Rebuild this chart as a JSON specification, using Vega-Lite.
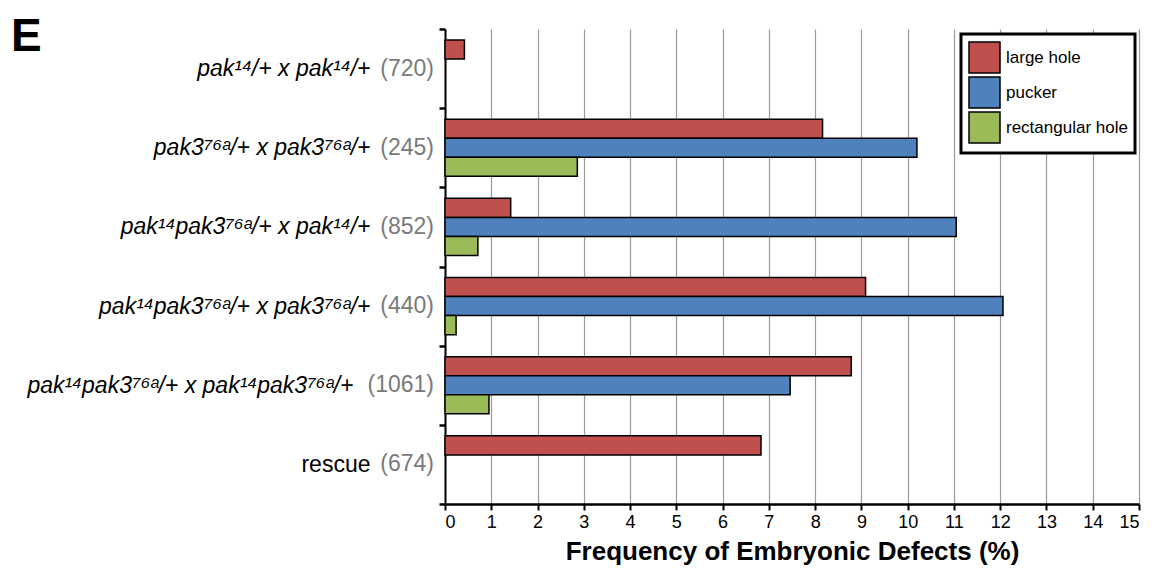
{
  "$schema": "https://vega.github.io/schema/vega-lite/v6.json",
  "width": 694,
  "height": 475,
  "padding": {"left": 10, "top": 14, "right": 5, "bottom": 5},
  "background": "white",
  "view": {"stroke": null},
  "config": {"font": "Liberation Sans"},
  "title": {"text": "E", "anchor": "start", "frame": "bounds", "fontSize": 46, "font": "Liberation Sans", "fontWeight": "bold", "color": "black", "offset": -43, "dx": -16},
  "datasets": {
    "bars": [
      {"cross": "pak¹⁴/+ x pak¹⁴/+", "defect": "large hole", "pct": 0.42},
      {"cross": "pak3⁷⁶ᵃ/+ x pak3⁷⁶ᵃ/+", "defect": "large hole", "pct": 8.16},
      {"cross": "pak3⁷⁶ᵃ/+ x pak3⁷⁶ᵃ/+", "defect": "pucker", "pct": 10.2},
      {"cross": "pak3⁷⁶ᵃ/+ x pak3⁷⁶ᵃ/+", "defect": "rectangular hole", "pct": 2.86},
      {"cross": "pak¹⁴pak3⁷⁶ᵃ/+ x pak¹⁴/+", "defect": "large hole", "pct": 1.42},
      {"cross": "pak¹⁴pak3⁷⁶ᵃ/+ x pak¹⁴/+", "defect": "pucker", "pct": 11.05},
      {"cross": "pak¹⁴pak3⁷⁶ᵃ/+ x pak¹⁴/+", "defect": "rectangular hole", "pct": 0.71},
      {"cross": "pak¹⁴pak3⁷⁶ᵃ/+ x pak3⁷⁶ᵃ/+", "defect": "large hole", "pct": 9.09},
      {"cross": "pak¹⁴pak3⁷⁶ᵃ/+ x pak3⁷⁶ᵃ/+", "defect": "pucker", "pct": 12.06},
      {"cross": "pak¹⁴pak3⁷⁶ᵃ/+ x pak3⁷⁶ᵃ/+", "defect": "rectangular hole", "pct": 0.24},
      {"cross": "pak¹⁴pak3⁷⁶ᵃ/+ x pak¹⁴pak3⁷⁶ᵃ/+\u2800", "defect": "large hole", "pct": 8.78},
      {"cross": "pak¹⁴pak3⁷⁶ᵃ/+ x pak¹⁴pak3⁷⁶ᵃ/+\u2800", "defect": "pucker", "pct": 7.46},
      {"cross": "pak¹⁴pak3⁷⁶ᵃ/+ x pak¹⁴pak3⁷⁶ᵃ/+\u2800", "defect": "rectangular hole", "pct": 0.95},
      {"cross": "rescue", "defect": "large hole", "pct": 6.83}
    ],
    "counts": [
      {"cross": "pak¹⁴/+ x pak¹⁴/+", "n": "(720)"},
      {"cross": "pak3⁷⁶ᵃ/+ x pak3⁷⁶ᵃ/+", "n": "(245)"},
      {"cross": "pak¹⁴pak3⁷⁶ᵃ/+ x pak¹⁴/+", "n": "(852)"},
      {"cross": "pak¹⁴pak3⁷⁶ᵃ/+ x pak3⁷⁶ᵃ/+", "n": "(440)"},
      {"cross": "pak¹⁴pak3⁷⁶ᵃ/+ x pak¹⁴pak3⁷⁶ᵃ/+\u2800", "n": "(1061)"},
      {"cross": "rescue", "n": "(674)"}
    ]
  },
  "layer": [
    {
      "data": {"name": "bars"},
      "mark": {"type": "bar", "stroke": "black", "strokeWidth": 1.5},
      "encoding": {
        "y": {
          "field": "cross", "type": "nominal",
          "sort": ["pak¹⁴/+ x pak¹⁴/+", "pak3⁷⁶ᵃ/+ x pak3⁷⁶ᵃ/+", "pak¹⁴pak3⁷⁶ᵃ/+ x pak¹⁴/+", "pak¹⁴pak3⁷⁶ᵃ/+ x pak3⁷⁶ᵃ/+", "pak¹⁴pak3⁷⁶ᵃ/+ x pak¹⁴pak3⁷⁶ᵃ/+\u2800", "rescue"],
          "scale": {"paddingInner": 0, "paddingOuter": 0},
          "axis": {
            "title": null,
            "domainColor": "black", "domainWidth": 2,
            "tickColor": "black", "tickWidth": 2.5, "tickSize": 6, "tickBand": "extent",
            "labelFont": "Liberation Sans", "labelFontSize": 23, "labelColor": "black",
            "labelFontStyle": {"condition": {"test": "datum.value === 'rescue'", "value": "normal"}, "value": "italic"},
            "labelPadding": 69, "labelLimit": 600, "grid": false
          }
        },
        "yOffset": {
          "field": "defect", "type": "nominal",
          "sort": ["large hole", "pucker", "rectangular hole"],
          "scale": {"domain": ["large hole", "pucker", "rectangular hole"], "paddingInner": 0, "paddingOuter": 0.58}
        },
        "x": {
          "field": "pct", "type": "quantitative",
          "scale": {"domain": [0, 15], "nice": false},
          "axis": {
            "title": "Frequency of Embryonic Defects (%)",
            "titleFont": "Liberation Sans", "titleFontSize": 26, "titleFontWeight": "bold", "titleColor": "black", "titlePadding": 7,
            "values": [0,1,2,3,4,5,6,7,8,9,10,11,12,13,14,15],
            "domainColor": "black", "domainWidth": 2.5,
            "tickColor": "black", "tickWidth": 2, "tickSize": 6,
            "labelFont": "Liberation Sans", "labelFontSize": 18, "labelColor": "black", "labelPadding": 3,
            "grid": true, "gridColor": "#9a9a9a", "gridWidth": 1.2
          }
        },
        "color": {
          "field": "defect", "type": "nominal",
          "scale": {"domain": ["large hole", "pucker", "rectangular hole"], "range": ["#c0504d", "#4f81bd", "#9bbb59"]},
          "legend": {
            "title": null, "orient": "none", "legendX": 516, "legendY": 5,
            "strokeColor": "black", "fillColor": "white", "padding": 7,
            "symbolType": "square", "symbolSize": 961, "symbolStrokeColor": "black", "symbolStrokeWidth": 1.5, "symbolOpacity": 1,
            "labelFont": "Liberation Sans", "labelFontSize": 17, "labelColor": "black", "labelOffset": 5, "rowPadding": -6,
            "encode": {"legend": {"update": {"strokeWidth": {"value": 3}}}}
          }
        }
      }
    },
    {
      "data": {"name": "counts"},
      "mark": {"type": "text", "align": "right", "baseline": "middle", "dx": -11, "color": "#7a7a7a", "fontSize": 23, "font": "Liberation Sans"},
      "encoding": {
        "y": {
          "field": "cross", "type": "nominal",
          "sort": ["pak¹⁴/+ x pak¹⁴/+", "pak3⁷⁶ᵃ/+ x pak3⁷⁶ᵃ/+", "pak¹⁴pak3⁷⁶ᵃ/+ x pak¹⁴/+", "pak¹⁴pak3⁷⁶ᵃ/+ x pak3⁷⁶ᵃ/+", "pak¹⁴pak3⁷⁶ᵃ/+ x pak¹⁴pak3⁷⁶ᵃ/+\u2800", "rescue"]
        },
        "x": {"datum": 0},
        "text": {"field": "n"}
      }
    }
  ]
}
